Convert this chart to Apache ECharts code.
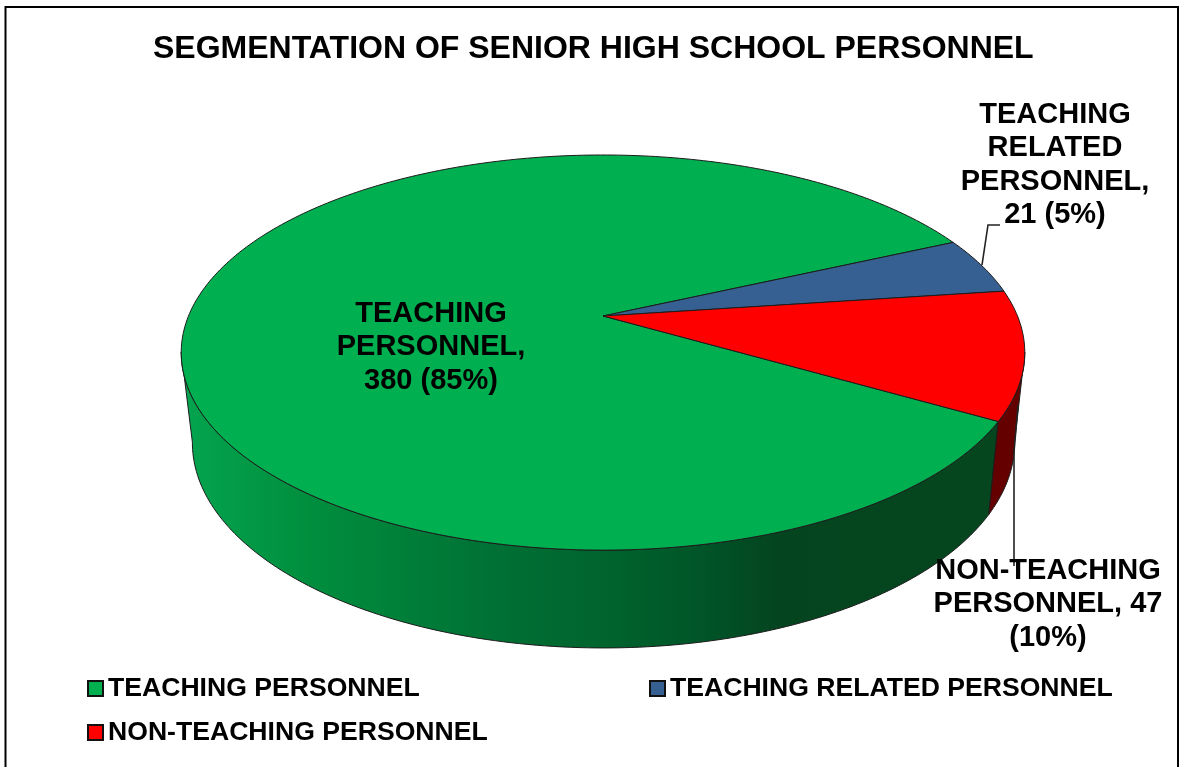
<!DOCTYPE html>
<html>
<head>
<meta charset="utf-8">
<style>html,body{margin:0;padding:0;background:#fff}#c{width:1183px;height:767px}</style>
<script src="https://cdn.jsdelivr.net/npm/echarts@6/dist/echarts.min.js"></script>
</head>
<body>
<div id="c"></div>
<script>
const titleText = 'SEGMENTATION OF SENIOR HIGH SCHOOL PERSONNEL';
const categories = ['TEACHING PERSONNEL', 'TEACHING RELATED PERSONNEL', 'NON-TEACHING PERSONNEL'];
const values = [380, 21, 47];
const percents = [85, 5, 10];
const labelBreaks = [
  ['TEACHING', 'PERSONNEL,', '{v} ({p}%)'],
  ['TEACHING', 'RELATED', 'PERSONNEL,', '{v} ({p}%)'],
  ['NON-TEACHING', 'PERSONNEL, {v}', '({p}%)']
];
const colors = ['#00B050', '#376092', '#FF0000'];
const FONT = '"Liberation Sans", Arial, sans-serif';

// Perspective model of the disc: top rim and bottom rim
const startDeg = 30.1;
const topRim = {cx: 603, cy: 316, R: 414.5, S: 190.8, k: 0.185};
const botRim = {cx: 603.5, cy: 405, R: 404, S: 198, k: 0.185};
const visibleFrom = 10.5, visibleTo = 169.5;
const labelAnchors = [
  {x: 431, y: 297},
  {x: 1055, y: 98},
  {x: 1048, y: 554}
];
const leaderLines = [
  null,
  [[982, 265], [988, 225], [1000, 225]],
  [[1014, 566], [1014, 452], [1018, 405]]
];
const wallFills = [
  {type: 'linear', x: 190, y: 0, x2: 1000, y2: 0, global: true, colorStops: [
    {offset: 0, color: '#04A34E'}, {offset: 0.14, color: '#008F3E'},
    {offset: 0.38, color: '#007034'}, {offset: 0.52, color: '#00632D'},
    {offset: 0.63, color: '#005528'}, {offset: 0.72, color: '#04451F'},
    {offset: 1, color: '#05461F'}]},
  '#223A58',
  '#640000'
];

function rimPoint(rim, deg) {
  const a = deg * Math.PI / 180, u = Math.cos(a), v = Math.sin(a), w = 1 - rim.k * v;
  return [rim.cx + rim.R * u / w, rim.cy + rim.S * v / w];
}
function arc(rim, from, to) {
  const pts = [], n = Math.max(2, Math.ceil(Math.abs(to - from)));
  for (let i = 0; i <= n; i++) pts.push(rimPoint(rim, from + (to - from) * i / n));
  return pts;
}
const total = values.reduce((a, b) => a + b, 0);
const cumulative = [];
values.reduce((s, v, i) => (cumulative[i] = s, s + v), 0);

function wallRange(a0, a1) {
  for (const shift of [0, -360]) {
    const from = Math.max(a0 + shift, visibleFrom), to = Math.min(a1 + shift, visibleTo);
    if (to > from) return [from, to];
  }
  return null;
}

function makeRender(idx) {
  return function (params, api) {
    const val = api.value(0);
    const a0 = startDeg + cumulative[idx] / total * 360;
    const a1 = a0 + val / total * 360;
    const children = [];
    const r = wallRange(a0, a1);
    const edge = {stroke: '#1c1c1c', lineWidth: 1};
    if (r) {
      children.push({
        type: 'polygon', z2: 1,
        shape: {points: arc(topRim, r[0], r[1]).concat(arc(botRim, r[1], r[0]))},
        style: Object.assign({fill: wallFills[idx]}, edge)
      });
    }
    children.push({
      type: 'polygon', z2: 2,
      shape: {points: [[topRim.cx, topRim.cy]].concat(arc(topRim, a0, a1))},
      style: Object.assign({fill: colors[idx]}, edge)
    });
    if (leaderLines[idx]) {
      children.push({type: 'polyline', z2: 3, shape: {points: leaderLines[idx]},
        style: {fill: 'none', stroke: '#222', lineWidth: 1.6}});
    }
    children.push({
      type: 'text', z2: 4, x: labelAnchors[idx].x, y: labelAnchors[idx].y,
      style: {
        text: labelBreaks[idx].join('\n').replace('{v}', val).replace('{p}', percents[idx]),
        fill: '#000', fontFamily: FONT, fontWeight: 'bold', fontSize: 29, lineHeight: 33.5,
        align: 'center', verticalAlign: 'top', textAlign: 'center', textVerticalAlign: 'top'
      }
    });
    return {type: 'group', children};
  };
}

const legendBase = {
  orient: 'horizontal', itemWidth: 15, itemHeight: 15, padding: 0, selectedMode: false,
  icon: 'rect',
  itemStyle: {borderColor: '#111', borderWidth: 2},
  textStyle: {color: '#000', fontFamily: FONT, fontWeight: 'bold', fontSize: 26.6}
};

const chart = echarts.init(document.getElementById('c'), null, {renderer: 'canvas'});
chart.setOption({
  animation: false,
  backgroundColor: '#fff',
  title: {
    text: titleText, left: 153, top: 33, padding: 0,
    textStyle: {color: '#000', fontFamily: FONT, fontWeight: 'bold', fontSize: 32}
  },
  legend: [
    Object.assign({}, legendBase, {left: 87, top: 675, data: [categories[0]]}),
    Object.assign({}, legendBase, {left: 649, top: 675, data: [categories[1]]}),
    Object.assign({}, legendBase, {left: 87, top: 719, data: [categories[2]]})
  ],
  graphic: [{
    type: 'polyline', silent: true, z: 0,
    shape: {points: [[5.5, 770], [5.5, 7], [1178, 7], [1178, 770]]},
    style: {fill: 'none', stroke: '#000', lineWidth: 2}
  }],
  series: categories.map((name, i) => ({
    type: 'custom', name, coordinateSystem: 'none', silent: true, z: 2,
    itemStyle: {color: colors[i]},
    renderItem: makeRender(i),
    data: [values[i]]
  }))
});
</script>
</body>
</html>
